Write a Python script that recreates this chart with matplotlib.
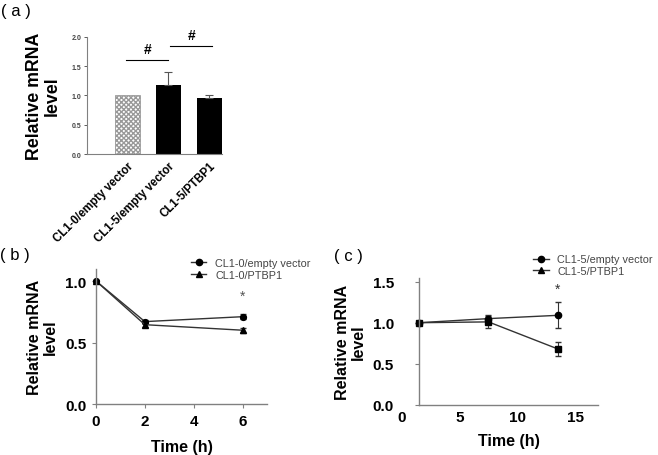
import matplotlib
matplotlib.use("Agg")
import matplotlib.pyplot as plt

plt.rcParams['font.family'] = ['Liberation Sans', 'DejaVu Sans']

# panel (a)
groups = ['CL1-0/empty vector', 'CL1-5/empty vector', 'CL1-5/PTBP1']
bar_vals = [1.0, 1.17, 0.95]
bar_err = [0.0, 0.23, 0.06]

# panel (b)
time_b = [0, 2, 6]
b_empty = [1.0, 0.67, 0.71]
b_empty_err = [0.0, 0.015, 0.02]
b_ptbp1 = [1.0, 0.645, 0.60]
b_ptbp1_err = [0.0, 0.015, 0.02]

# panel (c)
time_c = [1.5, 7.5, 13.5]
c_empty = [1.0, 1.05, 1.09]
c_empty_err = [0.0, 0.05, 0.16]
c_ptbp1 = [1.0, 1.01, 0.68]
c_ptbp1_err = [0.0, 0.07, 0.08]

fig = plt.figure(figsize=(6.58, 4.56), dpi=100)
spine_col = '#808080'

# ---------- (a)
ax1 = fig.add_axes([0.132, 0.660, 0.205, 0.257])
xs = range(len(groups))
ax1.bar(0, bar_vals[0], width=0.6, color='white', edgecolor='#999999',
        hatch='xxxxxxx', linewidth=0.6)
ax1.bar([1, 2], bar_vals[1:], width=0.6, color='black')
ax1.errorbar([1, 2], bar_vals[1:], yerr=[[0, 0], bar_err[1:]], fmt='none',
             ecolor='#555555', elinewidth=0.8, capsize=3, capthick=0.8)
ax1.set_xlim(-0.99, 2.3)
ax1.set_ylim(0, 2.0)
ax1.set_yticks([0, 0.5, 1.0, 1.5, 2.0])
ax1.set_yticklabels(['0.0', '0.5', '1.0', '1.5', '2.0'], fontsize=5, fontweight='bold')
ax1.set_xticks(list(xs))
ax1.set_xticklabels(groups, rotation=45, ha='right', rotation_mode='anchor',
                    fontsize=8.3, fontweight='bold')
ax1.tick_params(axis='x', length=0, pad=4)
ax1.tick_params(axis='y', length=2, width=0.6, colors='#444444', pad=2)
for s in ['top', 'right']:
    ax1.spines[s].set_visible(False)
for s in ['left', 'bottom']:
    ax1.spines[s].set_color(spine_col)
    ax1.spines[s].set_linewidth(0.8)
ax1.set_ylabel('Relative mRNA\nlevel', fontsize=12.8, fontweight='bold',
               labelpad=8, linespacing=1.05)
# significance brackets
ax1.plot([-0.03, 0.99], [1.61, 1.61], color='black', lw=0.8, clip_on=False)
ax1.text(0.48, 1.68, '#', ha='center', va='bottom', fontsize=10, fontweight='bold')
ax1.plot([1.05, 2.07], [1.85, 1.85], color='black', lw=0.8, clip_on=False)
ax1.text(1.56, 1.92, '#', ha='center', va='bottom', fontsize=10, fontweight='bold')
fig.text(0.002, 0.975, '( a )', fontsize=12, va='center')


def style_line_axes(ax, ypad):
    for s in ['top', 'right']:
        ax.spines[s].set_visible(False)
    for s in ['left', 'bottom']:
        ax.spines[s].set_color(spine_col)
        ax.spines[s].set_linewidth(1.0)
    ax.tick_params(length=3, width=0.8, color=spine_col, labelsize=11, pad=4)
    ax.tick_params(axis='y', pad=ypad)
    for lab in ax.get_xticklabels() + ax.get_yticklabels():
        lab.set_fontweight('bold')
    ax.set_xlabel('Time (h)', fontsize=11.5, fontweight='bold', labelpad=8)
    ax.set_ylabel('Relative mRNA\nlevel', fontsize=11.5, fontweight='bold',
                  labelpad=5, linespacing=1.1)


def leg_handles():
    h1 = plt.Line2D([], [], color='#333333', lw=1.0, marker='o', ms=4.5,
                    mfc='black', mec='black')
    h2 = plt.Line2D([], [], color='#333333', lw=1.0, marker='^', ms=5,
                    mfc='black', mec='black')
    return [h1, h2]


# ---------- (b)
ax2 = fig.add_axes([0.1459, 0.1118, 0.2599, 0.2967])
ax2.errorbar(time_b, b_empty, yerr=b_empty_err, color='#333333', lw=1.0,
             marker='o', ms=4.2, mfc='black', mec='black', capsize=2,
             elinewidth=0.8, clip_on=False)
ax2.errorbar(time_b, b_ptbp1, yerr=b_ptbp1_err, color='#333333', lw=1.0,
             marker='^', ms=4.6, mfc='black', mec='black', capsize=2,
             elinewidth=0.8, clip_on=False)
ax2.set_xlim(0, 7)
ax2.set_ylim(0, 1.1)
ax2.set_xticks([0, 2, 4, 6])
ax2.set_yticks([0, 0.5, 1.0])
ax2.set_yticklabels(['0.0', '0.5', '1.0'])
style_line_axes(ax2, 4)
ax2.text(6, 0.88, '*', ha='center', va='center', fontsize=10, color='#555555')
ax2.legend(leg_handles(), ['CL1-0/empty vector', 'CL1-0/PTBP1'],
           loc='upper left', bbox_to_anchor=(0.5, 1.15), frameon=False,
           fontsize=7.8, handlelength=1.4, labelspacing=0.15, handletextpad=0.8,
           labelcolor='#444444')
fig.text(0.0, 0.44, '( b )', fontsize=12, va='center')

# ---------- (c)
ax3 = fig.add_axes([0.6105, 0.1103, 0.2988, 0.2787])
ax3.errorbar(time_c, c_empty, yerr=c_empty_err, color='#333333', lw=1.0,
             marker='o', ms=4.5, mfc='black', mec='black', capsize=2.5,
             elinewidth=0.8, clip_on=False)
ax3.errorbar(time_c, c_ptbp1, yerr=c_ptbp1_err, color='#333333', lw=1.0,
             marker='s', ms=4, mfc='black', mec='black', capsize=2.5,
             elinewidth=0.8, clip_on=False)
ax3.set_xlim(0, 17)
ax3.set_ylim(0, 1.55)
ax3.spines['left'].set_position(('data', 1.5))
ax3.spines['bottom'].set_bounds(1.5, 17)
ax3.set_xticks([0, 5, 10, 15])
ax3.set_yticks([0, 0.5, 1.0, 1.5])
ax3.set_yticklabels(['0.0', '0.5', '1.0', '1.5'])
style_line_axes(ax3, 15)
ax3.tick_params(axis='x', length=0)
ax3.xaxis.set_label_coords(9.25 / 17, -0.22)
ax3.text(13.5, 1.41, '*', ha='center', va='center', fontsize=10, color='#333333')
ax3.legend(leg_handles(), ['CL1-5/empty vector', 'CL1-5/PTBP1'],
           loc='upper left', bbox_to_anchor=(0.62, 1.26),
           frameon=False, fontsize=7.8, handlelength=1.4, labelspacing=0.15,
           handletextpad=0.8, labelcolor='#444444')
fig.text(0.507, 0.437, '( c )', fontsize=12, va='center')

fig.savefig('out.png', dpi=100)
